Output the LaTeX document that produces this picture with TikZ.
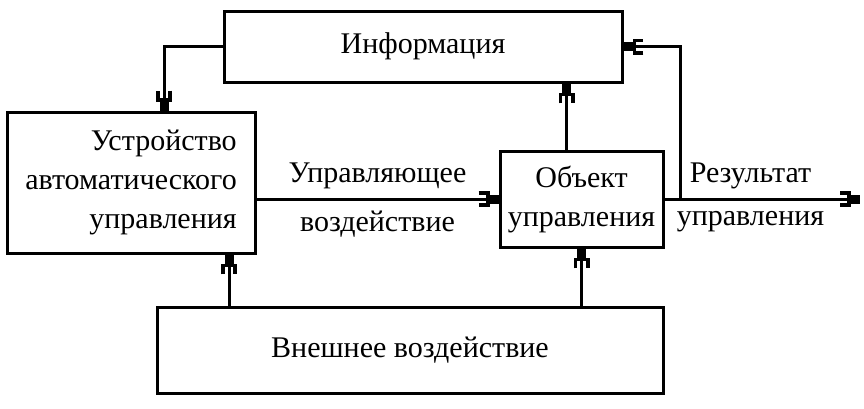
\documentclass[tikz,border=0pt]{standalone}
\usepackage{fontspec}
\setmainfont{Liberation Serif}
\usepackage{tikz}
\usetikzlibrary{arrows.meta,calc}

\tikzset{
    plug/.tip={Bracket[width=8pt,length=4.5pt,line width=1.8pt] Square[length=4.5pt,width=4.5pt]},
    block/.style={draw,line width=1.5pt,inner sep=0pt,font=\fontsize{15}{19.5}\selectfont},
    link/.style={line width=1.5pt,-plug},
    lbl/.style={font=\fontsize{15}{19.5}\selectfont}
}

\begin{document}
\begin{tikzpicture}[x=0.5pt,y=-0.5pt]
    \useasboundingbox (0,0) rectangle (864,408);

    % blocks
    \node[block,minimum width=199pt,minimum height=35.5pt] (info) at (423,46.5) {Информация};
    \node[block,minimum width=124pt,minimum height=70.5pt,align=right] (device) at (131,182.5)
        {Устройство\\автоматического\\управления};
    \node[block,minimum width=81.5pt,minimum height=48pt,align=center] (object) at (581.5,199)
        {Объект\\управления};
    \node[block,minimum width=253pt,minimum height=43pt] (ext) at (410,350)
        {Внешнее воздействие};

    % tap points
    \coordinate (toDev) at ($(device.north)+(33,0)$);
    \coordinate (toInfo) at ($(object.north)+(-15,0)$);
    \coordinate (fromExt) at ($(ext.north)+(-181,0)$);
    \coordinate (result) at (860,199);
    \coordinate (back) at (680,199);

    % connectors
    \draw[link] (info.west) -| (toDev);
    \draw[link] (device.east |- object.west) -- (object.west)
        node[lbl,midway,above,yshift=1pt] (ctrlA) {Управляющее}
        node[lbl,midway,below,yshift=-2pt] (ctrlB) {воздействие};
    \draw[link] (toInfo) -- (info.south -| toInfo);
    \draw[link] (fromExt) -- (device.south -| fromExt);
    \draw[link] (ext.north -| object.south) -- (object.south);
    \draw[link] (object.east) -- (result)
        node[lbl,pos=0.44,above,yshift=1pt] (resA) {Результат}
        node[lbl,pos=0.44,below,yshift=-2pt] (resB) {управления};
    \draw[link] (back) |- (info.east);
\end{tikzpicture}
\end{document}
